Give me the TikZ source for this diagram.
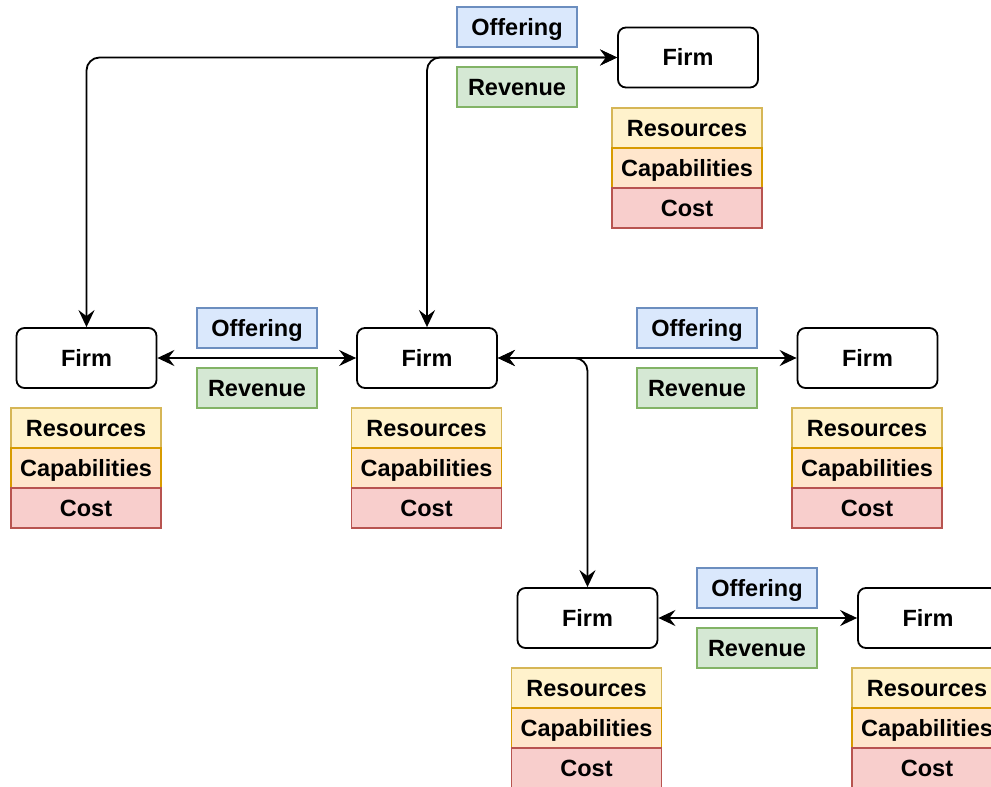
\documentclass[tikz,border=0pt]{standalone}
\usepackage{fontspec}
\setmainfont{Liberation Sans}
\usetikzlibrary{arrows.meta}

\definecolor{offerFill}{HTML}{DAE8FC}
\definecolor{offerLine}{HTML}{6C8EBF}
\definecolor{revFill}{HTML}{D5E8D4}
\definecolor{revLine}{HTML}{82B366}
\definecolor{resFill}{HTML}{FFF2CC}
\definecolor{resLine}{HTML}{D6B656}
\definecolor{capFill}{HTML}{FFE6CC}
\definecolor{capLine}{HTML}{D79B00}
\definecolor{costFill}{HTML}{F8CECC}
\definecolor{costLine}{HTML}{B85450}

\tikzset{
  lbl/.style={font=\fontsize{23.5}{28}\selectfont\bfseries, inner sep=0pt,
    text height=16.5pt, text depth=0pt},
  firmbox/.style={lbl, draw=black, line width=1.8pt, rounded corners=8pt, fill=white,
    minimum width=140pt, minimum height=60pt},
  tagbox/.style={lbl, line width=1.6pt, minimum width=120pt, minimum height=40pt},
  offerbox/.style={tagbox, draw=offerLine, fill=offerFill},
  revbox/.style={tagbox, draw=revLine, fill=revFill},
  cellbox/.style={lbl, line width=1.6pt, minimum width=150pt, minimum height=40pt},
  resbox/.style={cellbox, draw=resLine, fill=resFill},
  capbox/.style={cellbox, draw=capLine, fill=capFill},
  costbox/.style={cellbox, draw=costLine, fill=costFill},
  linktip/.tip={Stealth[length=17pt, width=16pt, inset=6pt]},
  link/.style={draw=black, line width=1.8pt, rounded corners=13pt, linktip-linktip}
}

\begin{document}
\begin{tikzpicture}[x=1pt, y=-1pt]
\useasboundingbox (0,0) rectangle (991,787);
\clip (0,0) rectangle (991,787);

% firms
\node[firmbox] (f1) at (688,57.5) {Firm};
\node[firmbox] (f2) at (86.5,358) {Firm};
\node[firmbox] (f3) at (427,358) {Firm};
\node[firmbox] (f4) at (867.5,358) {Firm};
\node[firmbox] (f5) at (587.5,618) {Firm};
\node[firmbox] (f6) at (928,618) {Firm};

% resource / capability / cost stacks
\foreach \n/\x/\y in {s1/687/128, s2/86/428, s3/426.5/428, s4/867/428, s5/586.5/688, s6/927/688} {
  \node[resbox]  (\n r) at (\x,\y) {Resources};
  \node[capbox]  (\n c) at (\x,\y+40) {Capabilities};
  \node[costbox] (\n k) at (\x,\y+80) {Cost};
}

% exchange labels
\node[offerbox] (o1) at (517,27) {Offering};
\node[revbox]   (r1) at (517,87) {Revenue};
\node[offerbox] (o2) at (257,328) {Offering};
\node[revbox]   (r2) at (257,388) {Revenue};
\node[offerbox] (o3) at (697,328) {Offering};
\node[revbox]   (r3) at (697,388) {Revenue};
\node[offerbox] (o4) at (757,588) {Offering};
\node[revbox]   (r4) at (757,648) {Revenue};

% connectors
\draw[link] (f1.west) -| (f2.north);
\draw[link] (f1.west) -| (f3.north);
\draw[link] (f2.east) -- (f3.west);
\draw[link] (f3.east) -- (f4.west);
\draw[link] (f3.east) -| (f5.north);
\draw[link] (f5.east) -- (f6.west);
\end{tikzpicture}
\end{document}
